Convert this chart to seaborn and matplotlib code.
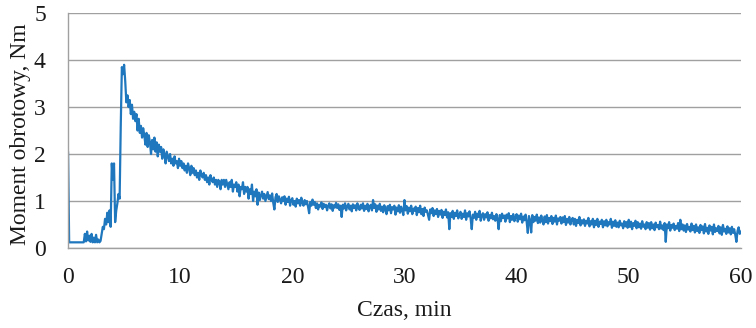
import numpy as np
import pandas as pd
import matplotlib
matplotlib.use("Agg")
import matplotlib.pyplot as plt
import seaborn as sns

# Torque readings, one per 0.1 min; each row below covers one minute
sample_step_min = 0.1
torque_nm = [
    2.05, 0.12, 0.12, 0.12, 0.12, 0.12, 0.12, 0.12, 0.12, 0.12,
    0.12, 0.12, 0.12, 0.12, 0.12, 0.30, 0.14, 0.35, 0.16, 0.26,
    0.13, 0.30, 0.12, 0.22, 0.12, 0.28, 0.12, 0.18, 0.12, 0.15,
    0.30, 0.45, 0.40, 0.62, 0.50, 0.75, 0.55, 0.80, 0.45, 1.80,
    1.45, 1.80, 0.55, 0.80, 0.95, 1.15, 1.05, 2.60, 3.85, 3.70,
    3.90, 3.55, 3.10, 3.25, 3.00, 3.15, 2.85, 3.05, 2.75, 2.90,
    2.70, 2.85, 2.50, 2.75, 2.45, 2.60, 2.35, 2.55, 2.40, 2.20,
    2.45, 2.15, 2.40, 2.25, 2.00, 2.30, 2.10, 2.35, 2.05, 2.25,
    1.95, 2.20, 2.05, 2.15, 1.90, 2.10, 2.00, 1.80, 2.05, 1.95,
    1.85, 2.00, 1.80, 1.90, 1.75, 1.95, 1.80, 1.85, 1.70, 1.90,
    1.75, 1.85, 1.70, 1.80, 1.65, 1.75, 1.60, 1.80, 1.70, 1.55,
    1.75, 1.60, 1.70, 1.55, 1.65, 1.50, 1.60, 1.45, 1.65, 1.55,
    1.50, 1.60, 1.45, 1.55, 1.40, 1.50, 1.35, 1.55, 1.45, 1.40,
    1.50, 1.35, 1.45, 1.30, 1.45, 1.40, 1.25, 1.45, 1.35, 1.45,
    1.30, 1.45, 1.35, 1.25, 1.40, 1.30, 1.45, 1.20, 1.35, 1.30,
    1.40, 1.20, 1.35, 1.10, 1.30, 1.25, 1.40, 1.15, 1.30, 1.20,
    1.30, 1.05, 1.25, 1.15, 1.35, 1.00, 1.20, 1.10, 1.25, 0.92,
    1.18, 1.02, 1.12, 1.20, 1.05, 1.15, 1.00, 1.10, 1.19, 1.04,
    1.12, 1.00, 1.16, 0.96, 0.82, 1.08, 1.15, 0.98, 1.10, 1.03,
    0.95, 1.08, 1.00, 1.10, 0.92, 1.05, 0.98, 1.09, 0.90, 1.02,
    1.06, 0.92, 1.00, 0.88, 1.05, 0.95, 1.02, 0.90, 1.07, 0.96,
    0.90, 1.02, 0.93, 1.00, 0.88, 0.74, 0.98, 0.90, 1.03, 0.92,
    0.98, 0.85, 0.95, 0.82, 0.92, 0.88, 0.97, 0.83, 0.94, 0.87,
    0.92, 0.80, 0.90, 0.95, 0.84, 0.93, 0.79, 0.91, 0.86, 0.96,
    0.85, 0.93, 0.81, 0.90, 0.66, 0.92, 0.84, 0.95, 0.80, 0.89,
    0.94, 0.82, 0.90, 0.78, 0.93, 0.85, 0.91, 0.80, 0.95, 0.86,
    0.81, 0.92, 0.84, 0.95, 0.79, 0.90, 0.83, 0.94, 0.78, 0.88,
    0.92, 0.80, 1.02, 0.85, 0.93, 0.77, 0.90, 0.82, 0.94, 0.79,
    0.88, 0.76, 0.91, 0.83, 0.72, 0.89, 0.80, 0.92, 0.74, 0.87,
    0.82, 0.90, 0.71, 0.86, 0.78, 0.91, 0.75, 0.88, 0.80, 0.70,
    1.02, 0.80, 0.89, 0.73, 0.86, 0.78, 0.90, 0.72, 0.84, 0.79,
    0.88, 0.70, 0.85, 0.76, 0.90, 0.72, 0.83, 0.68, 0.86, 0.77,
    0.80, 0.70, 0.60, 0.82, 0.74, 0.85, 0.68, 0.80, 0.72, 0.83,
    0.66, 0.79, 0.71, 0.81, 0.64, 0.77, 0.70, 0.82, 0.65, 0.76,
    0.40, 0.74, 0.66, 0.79, 0.62, 0.75, 0.68, 0.80, 0.63, 0.72,
    0.77, 0.62, 0.73, 0.66, 0.80, 0.60, 0.74, 0.67, 0.78, 0.63,
    0.40, 0.71, 0.64, 0.77, 0.60, 0.73, 0.66, 0.79, 0.58, 0.70,
    0.74, 0.60, 0.72, 0.65, 0.76, 0.58, 0.70, 0.63, 0.75, 0.61,
    0.68, 0.58, 0.72, 0.62, 0.40, 0.70, 0.57, 0.73, 0.64, 0.69,
    0.56, 0.71, 0.63, 0.74, 0.55, 0.68, 0.60, 0.72, 0.57, 0.66,
    0.72, 0.56, 0.69, 0.61, 0.73, 0.54, 0.67, 0.59, 0.71, 0.55,
    0.32, 0.68, 0.60, 0.33, 0.70, 0.55, 0.66, 0.58, 0.71, 0.53,
    0.65, 0.54, 0.69, 0.58, 0.50, 0.67, 0.55, 0.70, 0.52, 0.64,
    0.57, 0.68, 0.51, 0.64, 0.56, 0.69, 0.50, 0.63, 0.58, 0.66,
    0.52, 0.65, 0.55, 0.68, 0.49, 0.62, 0.54, 0.66, 0.50, 0.60,
    0.64, 0.50, 0.62, 0.47, 0.60, 0.53, 0.66, 0.48, 0.59, 0.52,
    0.61, 0.47, 0.58, 0.52, 0.64, 0.46, 0.57, 0.50, 0.62, 0.44,
    0.58, 0.49, 0.62, 0.45, 0.56, 0.51, 0.60, 0.44, 0.57, 0.48,
    0.60, 0.46, 0.55, 0.50, 0.62, 0.43, 0.56, 0.47, 0.59, 0.45,
    0.54, 0.44, 0.58, 0.48, 0.52, 0.42, 0.57, 0.46, 0.55, 0.43,
    0.60, 0.45, 0.56, 0.40, 0.53, 0.47, 0.58, 0.42, 0.55, 0.44,
    0.52, 0.41, 0.57, 0.45, 0.50, 0.40, 0.55, 0.43, 0.53, 0.39,
    0.55, 0.42, 0.50, 0.38, 0.54, 0.44, 0.49, 0.40, 0.56, 0.41,
    0.48, 0.38, 0.53, 0.13, 0.50, 0.42, 0.55, 0.37, 0.49, 0.43,
    0.52, 0.38, 0.47, 0.41, 0.53, 0.36, 0.60, 0.40, 0.50, 0.37,
    0.48, 0.34, 0.51, 0.39, 0.45, 0.35, 0.52, 0.38, 0.47, 0.33,
    0.50, 0.36, 0.44, 0.32, 0.49, 0.38, 0.46, 0.31, 0.51, 0.35,
    0.43, 0.30, 0.48, 0.37, 0.45, 0.29, 0.50, 0.34, 0.42, 0.36,
    0.47, 0.31, 0.44, 0.28, 0.49, 0.35, 0.41, 0.30, 0.46, 0.33,
    0.42, 0.29, 0.45, 0.32, 0.40, 0.28, 0.13, 0.36, 0.44, 0.30,
    0.35,
]

x_ticks = [0, 10, 20, 30, 40, 50, 60]
y_ticks = [0, 1, 2, 3, 4, 5]
x_label = "Czas, min"
y_label = "Moment obrotowy, Nm"

time_min = np.arange(len(torque_nm)) * sample_step_min
df = pd.DataFrame({"czas": time_min, "moment": torque_nm})

sns.set_theme(style="white")
plt.rcParams["font.family"] = ["Liberation Serif", "DejaVu Serif"]

fig = plt.figure(figsize=(7.56, 3.28), dpi=100)
ax = fig.add_axes([0.090, 0.244, 0.890, 0.716])

sns.lineplot(data=df, x="czas", y="moment", ax=ax, estimator=None,
             color="#1F77BD", linewidth=1.6)

ax.set_xlim(0, 60)
ax.set_ylim(0, 5)
ax.set_xticks(x_ticks)
ax.set_yticks(y_ticks)
ax.set_xticklabels([str(v) for v in x_ticks])
ax.set_yticklabels([str(v) for v in y_ticks])
ax.tick_params(axis="both", length=0, labelsize=17, colors="#1a1a1a")
ax.tick_params(axis="x", pad=14)
ax.tick_params(axis="y", pad=16)

ax.yaxis.grid(True, color="#A0A0A0", linewidth=1.0)
ax.xaxis.grid(False)
ax.set_axisbelow(True)

for side in ["top", "right"]:
    ax.spines[side].set_visible(False)
for side in ["left", "bottom"]:
    ax.spines[side].set_color("#A0A0A0")
    ax.spines[side].set_linewidth(1.0)

ax.set_xlabel(x_label, fontsize=17, color="#1a1a1a", labelpad=8)
ax.set_ylabel(y_label, fontsize=17, color="#1a1a1a", va="center")
ax.yaxis.set_label_coords(-0.070, 0.485)

fig.savefig("out.png", dpi=100)
